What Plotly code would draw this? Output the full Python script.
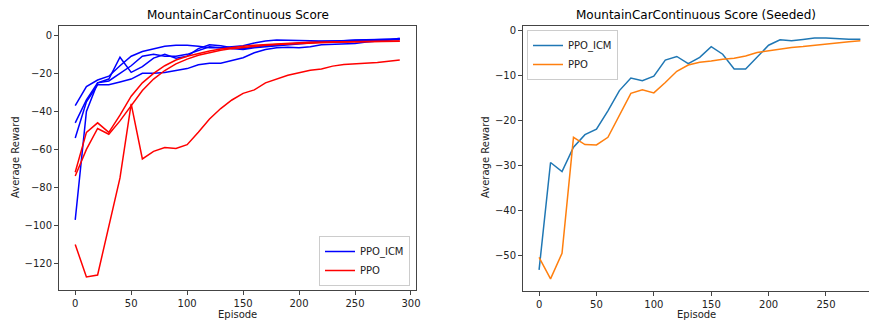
import plotly.graph_objects as go

# ---------------- data ----------------
episodes_left = list(range(0, 300, 10))
episodes_right = list(range(0, 290, 10))

ppo_icm_runs = [
    [-37, -27, -23.5, -21.5, -16, -11, -8.5, -7, -5.7, -5.2, -5.2, -5.7, -6.5, -6.5, -6, -5.5, -4, -3, -2.5, -2.5, -2.7, -2.8, -3, -3, -2.8, -2.5, -2.3, -2.2, -2.1, -2],
    [-46, -34, -25, -23, -11.5, -19.5, -16.5, -12, -10, -12, -11, -7, -5, -5.5, -6.5, -7, -6, -5.5, -5, -4.5, -4, -3.5, -3.2, -3, -2.8, -2.5, -2.4, -2.3, -2.2, -2],
    [-54, -35, -26, -26, -24.5, -23, -20, -20, -19.5, -18.5, -17.5, -15.5, -14.7, -14.7, -13.2, -11.8, -9.2, -7.5, -6.6, -6.3, -6.6, -6, -5, -4.7, -4.7, -4.3, -3.5, -3, -2.5, -1.6],
    [-97, -40, -25, -24, -20, -16, -11, -10, -11, -11, -10, -8, -6, -6.5, -7, -7.5, -6.5, -6, -5.5, -5, -4.5, -4, -3.5, -3.5, -3.2, -3, -2.8, -2.6, -2.4, -2.2],
]
ppo_runs = [
    [-110, -127, -126, -101, -75, -36, -65, -61, -59, -59.5, -57.5, -51, -44, -38.5, -34, -30.5, -28.7, -25, -23, -21, -19.7, -18.4, -17.7, -16.2, -15.4, -15, -14.8, -14.3, -13.6, -13],
    [-72, -51, -46, -51, -42, -32, -25, -20, -16, -13, -11, -9.5, -8.2, -7.2, -6.4, -5.8, -5.2, -4.8, -4.4, -4.1, -3.9, -3.7, -3.6, -3.5, -3.4, -3.3, -3.2, -3.1, -3.1, -3],
    [-74, -60, -49, -52, -45, -37, -29, -23, -18.5, -15, -12.5, -10.5, -9, -7.8, -7, -6.3, -5.7, -5.2, -4.8, -4.5, -4.2, -4, -3.9, -3.7, -3.6, -3.5, -3.4, -3.3, -3.2, -3.1],
]

seeded_ppo_icm = [-53.2, -29.3, -31.3, -25.9, -23.1, -21.9, -17.8, -13.3, -10.5, -11.1, -10.1, -6.5, -5.7, -7.3, -5.9, -3.5, -5.2, -8.5, -8.5, -5.9, -3.2, -2.0, -2.2, -1.9, -1.6, -1.6, -1.8, -1.85, -1.85]
seeded_ppo = [-50.4, -55.2, -49.5, -23.7, -25.3, -25.4, -23.7, -18.9, -13.9, -13.1, -13.8, -11.5, -9.0, -7.6, -7.0, -6.7, -6.3, -6.1, -5.6, -4.8, -4.4, -4.1, -3.7, -3.5, -3.2, -2.96, -2.6, -2.4, -2.2]

left_yticks = [0, -20, -40, -60, -80, -100, -120]
right_yticks = [0, -10, -20, -30, -40, -50]
left_xticks = [0, 50, 100, 150, 200, 250, 300]
right_xticks = [0, 50, 100, 150, 200, 250]

# ---------------- figure ----------------
W, H = 870, 321
FONT = "DejaVu Sans"
fig = go.Figure()

for i, run in enumerate(ppo_icm_runs):
    fig.add_trace(go.Scatter(x=episodes_left, y=run, mode="lines",
                             line=dict(color="#0000ff", width=1.5),
                             name="PPO_ICM", legendgroup="icm", showlegend=(i == 0),
                             xaxis="x", yaxis="y", legend="legend"))
for i, run in enumerate(ppo_runs):
    fig.add_trace(go.Scatter(x=episodes_left, y=run, mode="lines",
                             line=dict(color="#ff0000", width=1.5),
                             name="PPO", legendgroup="ppo", showlegend=(i == 0),
                             xaxis="x", yaxis="y", legend="legend"))

fig.add_trace(go.Scatter(x=episodes_right, y=seeded_ppo_icm, mode="lines",
                         line=dict(color="#1f77b4", width=1.5), name="PPO_ICM",
                         xaxis="x2", yaxis="y2", legend="legend2"))
fig.add_trace(go.Scatter(x=episodes_right, y=seeded_ppo, mode="lines",
                         line=dict(color="#ff7f0e", width=1.5), name="PPO",
                         xaxis="x2", yaxis="y2", legend="legend2"))

def px_x(p):
    return p / W

def px_y(p):
    return 1 - p / H

axis_common = dict(showgrid=False, zeroline=False, showline=True, linecolor="#444",
                   linewidth=1, ticks="outside", ticklen=4, tickcolor="#444",
                   automargin=False,
                   tickfont=dict(family=FONT, size=10, color="#222"))

def ann(text, x, y, size=10, color="#222", angle=0):
    return dict(text=text, x=px_x(x), y=px_y(y), xref="paper", yref="paper",
                xanchor="center", yanchor="middle", showarrow=False,
                textangle=angle, font=dict(family=FONT, size=size, color=color))

fig.update_layout(
    width=W, height=H,
    margin=dict(l=0, r=0, t=0, b=0, autoexpand=False),
    paper_bgcolor="white", plot_bgcolor="white",
    font=dict(family=FONT, size=10, color="#222"),
    xaxis=dict(domain=[px_x(59), px_x(416)], range=[-14.5, 304.5],
               tickvals=left_xticks, mirror=True, anchor="y", **axis_common),
    yaxis=dict(domain=[px_y(290), px_y(26)], range=[-133.9, 4.9],
               tickvals=left_yticks, mirror=True, anchor="x", **axis_common),
    xaxis2=dict(domain=[px_x(523), px_x(869)], range=[-14, 287.5],
                tickvals=right_xticks, mirror=True, anchor="y2", **axis_common),
    yaxis2=dict(domain=[px_y(291), px_y(26)], range=[-57.9, 1.08],
                tickvals=right_yticks, mirror=False, anchor="x2", **axis_common),
    legend=dict(x=px_x(410), y=px_y(286), xanchor="right", yanchor="bottom",
                bgcolor="rgba(255,255,255,0.8)", bordercolor="#ccc", borderwidth=1,
                font=dict(family=FONT, size=10, color="#222"), tracegroupgap=0,
                itemwidth=30),
    legend2=dict(x=px_x(527), y=px_y(30), xanchor="left", yanchor="top",
                 bgcolor="rgba(255,255,255,0.8)", bordercolor="#ccc", borderwidth=1,
                 font=dict(family=FONT, size=10, color="#222"), itemwidth=30),
    annotations=[
        ann("MountainCarContinuous Score", 237.5, 15, size=12, color="#000"),
        ann("MountainCarContinuous Score (Seeded)", 696, 15, size=12, color="#000"),
        ann("Episode", 237.5, 314),
        ann("Episode", 696, 314),
        ann("Average Reward", 15, 158, angle=-90),
        ann("Average Reward", 485, 158, angle=-90),
    ],
)

fig.write_html("out.html",
               config={"displayModeBar": False},
               post_script="document.body.style.margin='0';document.body.style.overflow='hidden';")
